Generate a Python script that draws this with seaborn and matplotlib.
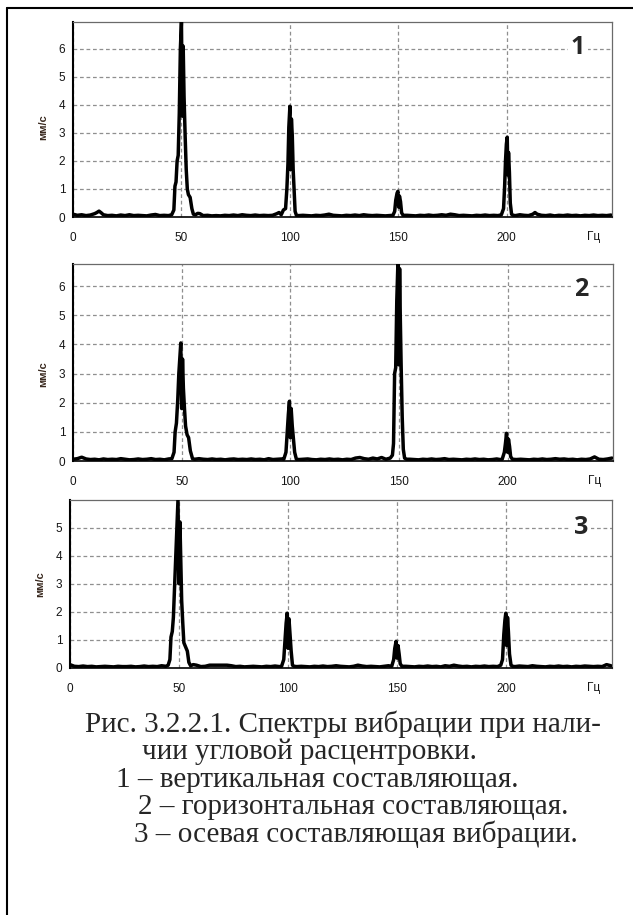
import numpy as np
import pandas as pd
import matplotlib
matplotlib.use("Agg")
import matplotlib.pyplot as plt
from matplotlib.lines import Line2D
from matplotlib.ticker import MultipleLocator
import seaborn as sns

# ---------------- data: (frequency Hz, amplitude mm/s) ----------------
spectrum_1 = [  # vertical component
    (0, 0.10), (2, 0.06), (4, 0.08), (6, 0.05), (8, 0.07), (10, 0.12), (11, 0.16), (12, 0.21), (13, 0.15), (14, 0.08),
    (16, 0.05), (18, 0.06), (20, 0.04), (22, 0.07), (24, 0.05), (26, 0.08), (28, 0.05), (30, 0.06), (32, 0.05),
    (34, 0.04), (36, 0.07), (38, 0.09), (40, 0.05), (42, 0.06), (44, 0.05),
    (45.5, 0.08), (46.5, 0.25), (47.0, 1.10), (47.5, 1.25), (48.0, 2.00), (48.5, 2.20), (49.0, 3.70), (49.5, 6.00),
    (50.0, 6.95), (50.4, 3.60), (50.8, 6.10), (51.2, 4.30), (51.7, 2.90), (52.2, 1.70), (52.7, 1.00), (53.2, 0.80),
    (54.0, 0.70), (54.8, 0.30), (55.5, 0.10),
    (56.5, 0.08), (57.5, 0.13), (58.5, 0.12), (60, 0.05), (62, 0.06), (64, 0.04), (66, 0.05), (68, 0.04), (70, 0.06),
    (72, 0.05), (74, 0.07), (76, 0.05), (78, 0.08), (80, 0.06), (82, 0.05), (84, 0.07), (86, 0.05), (88, 0.06),
    (90, 0.05), (92, 0.06), (94, 0.12), (95, 0.16),
    (96.0, 0.08), (97.0, 0.25), (98.0, 0.30), (98.6, 1.00), (99.1, 1.90), (99.5, 3.20), (100.0, 3.95), (100.3, 1.70),
    (100.7, 3.50), (101.1, 2.90), (101.5, 1.70), (101.9, 1.00), (102.4, 0.20), (103.0, 0.06),
    (104, 0.05), (106, 0.06), (108, 0.05), (110, 0.04), (112, 0.06), (114, 0.05), (116, 0.07), (118, 0.10), (120, 0.06),
    (122, 0.05), (124, 0.04), (126, 0.06), (128, 0.05), (130, 0.07), (132, 0.05), (134, 0.08), (136, 0.06), (138, 0.05),
    (140, 0.06), (142, 0.05), (144, 0.04), (146, 0.05),
    (147.5, 0.06), (148.3, 0.20), (148.8, 0.60), (149.4, 0.85), (149.8, 0.92), (150.2, 0.35), (150.5, 0.75),
    (151.0, 0.55), (151.5, 0.15), (152.2, 0.06),
    (154, 0.06), (156, 0.05), (158, 0.04), (160, 0.06), (162, 0.05), (164, 0.07), (166, 0.05), (168, 0.06), (170, 0.08),
    (172, 0.06), (174, 0.10), (176, 0.08), (178, 0.05), (180, 0.06), (182, 0.05), (184, 0.04), (186, 0.06), (188, 0.05),
    (190, 0.07), (192, 0.05), (194, 0.06), (196, 0.05),
    (197.5, 0.08), (198.5, 0.30), (199.0, 1.10), (199.4, 2.00), (199.8, 2.60), (200.2, 2.85), (200.5, 1.50),
    (200.8, 2.30), (201.2, 1.60), (201.6, 0.50), (202.2, 0.10), (203.0, 0.06),
    (204, 0.05), (206, 0.08), (208, 0.06), (210, 0.05), (212, 0.10), (213, 0.16), (214, 0.10), (216, 0.06), (218, 0.05),
    (220, 0.07), (222, 0.04), (224, 0.06), (226, 0.05), (228, 0.07), (230, 0.05), (232, 0.06), (234, 0.04), (236, 0.06),
    (238, 0.05), (240, 0.07), (242, 0.05), (244, 0.06), (246, 0.05), (248, 0.07),
]

spectrum_2 = [  # horizontal component
    (0, 0.06), (2, 0.08), (4, 0.13), (6, 0.07), (8, 0.05), (10, 0.06), (12, 0.04), (14, 0.07), (16, 0.05), (18, 0.06),
    (20, 0.05), (22, 0.08), (24, 0.06), (26, 0.04), (28, 0.05), (30, 0.07), (32, 0.05), (34, 0.06), (36, 0.08),
    (38, 0.05), (40, 0.06), (42, 0.04), (44, 0.07),
    (45.5, 0.08), (46.5, 0.30), (47.0, 1.00), (47.6, 1.30), (48.2, 2.10), (48.7, 3.00), (49.2, 3.60), (49.6, 4.05),
    (50.0, 1.80), (50.4, 3.50), (50.8, 2.50), (51.3, 1.80), (51.8, 1.20), (52.5, 0.90), (53.2, 0.80), (54.0, 0.35),
    (55.0, 0.08),
    (56, 0.06), (58, 0.08), (60, 0.06), (62, 0.05), (64, 0.07), (66, 0.05), (68, 0.06), (70, 0.04), (72, 0.06),
    (74, 0.07), (76, 0.05), (78, 0.06), (80, 0.05), (82, 0.07), (84, 0.05), (86, 0.06), (88, 0.04), (90, 0.08),
    (92, 0.05), (94, 0.06), (96, 0.07),
    (97.0, 0.06), (98.0, 0.30), (98.6, 1.00), (99.1, 1.60), (99.6, 2.05), (100.0, 0.80), (100.4, 1.80), (100.9, 1.20),
    (101.4, 0.80), (102.0, 0.30), (102.8, 0.06),
    (104, 0.05), (106, 0.06), (108, 0.07), (110, 0.05), (112, 0.04), (114, 0.06), (116, 0.05), (118, 0.07), (120, 0.05),
    (122, 0.06), (124, 0.04), (126, 0.06), (128, 0.05), (130, 0.10), (132, 0.12), (134, 0.08), (136, 0.06), (138, 0.10),
    (140, 0.07), (142, 0.12), (144, 0.06), (145, 0.08),
    (146.0, 0.10), (147.0, 0.20), (147.5, 0.60), (148.0, 3.00), (148.5, 3.20), (149.0, 5.50), (149.5, 6.75),
    (149.9, 3.30), (150.3, 6.60), (150.6, 5.00), (151.0, 3.30), (151.5, 1.50), (152.0, 0.40), (152.6, 0.10),
    (153.5, 0.06),
    (155, 0.06), (157, 0.05), (159, 0.04), (161, 0.06), (163, 0.05), (165, 0.07), (167, 0.05), (169, 0.06), (171, 0.08),
    (173, 0.05), (175, 0.06), (177, 0.05), (179, 0.04), (181, 0.06), (183, 0.05), (185, 0.07), (187, 0.05), (189, 0.06),
    (191, 0.04), (193, 0.05), (195, 0.07), (196.5, 0.05),
    (197.5, 0.06), (198.5, 0.30), (199.0, 0.60), (199.5, 0.95), (200.0, 0.30), (200.4, 0.75), (200.9, 0.50),
    (201.4, 0.15), (202.2, 0.06),
    (204, 0.05), (206, 0.06), (208, 0.05), (210, 0.04), (212, 0.06), (214, 0.05), (216, 0.07), (218, 0.05), (220, 0.06),
    (222, 0.08), (224, 0.06), (226, 0.07), (228, 0.05), (230, 0.06), (232, 0.04), (234, 0.06), (236, 0.05), (238, 0.07),
    (240, 0.14), (242, 0.06), (244, 0.05), (246, 0.07), (248, 0.10),
]

spectrum_3 = [  # axial component
    (0, 0.12), (2, 0.06), (4, 0.05), (6, 0.07), (8, 0.05), (10, 0.06), (12, 0.04), (14, 0.05), (16, 0.06), (18, 0.05),
    (20, 0.04), (22, 0.06), (24, 0.05), (26, 0.05), (28, 0.06), (30, 0.04), (32, 0.05), (34, 0.07), (36, 0.05),
    (38, 0.06), (40, 0.05), (42, 0.08), (44, 0.06),
    (45.0, 0.10), (45.8, 0.30), (46.3, 1.10), (46.9, 1.30), (47.4, 1.80), (48.0, 3.00), (48.5, 4.00), (49.0, 5.00),
    (49.5, 5.97), (50.0, 3.00), (50.4, 5.20), (50.8, 3.80), (51.2, 2.40), (51.7, 1.60), (52.2, 0.90), (53.0, 0.75),
    (53.8, 0.60), (54.5, 0.20), (55.3, 0.08),
    (56.5, 0.12), (58, 0.10), (60, 0.05), (62, 0.06), (64, 0.10), (66, 0.10), (68, 0.10), (70, 0.10), (72, 0.10),
    (74, 0.08), (76, 0.05), (78, 0.06), (80, 0.04), (82, 0.05), (84, 0.06), (86, 0.05), (88, 0.04), (90, 0.06),
    (92, 0.05), (94, 0.07), (96, 0.05),
    (97.0, 0.06), (98.0, 0.30), (98.6, 1.00), (99.1, 1.60), (99.6, 1.95), (100.0, 0.70), (100.4, 1.75), (100.9, 1.20),
    (101.4, 0.60), (102.0, 0.10), (102.8, 0.06),
    (104, 0.05), (106, 0.06), (108, 0.05), (110, 0.04), (112, 0.06), (114, 0.05), (116, 0.07), (118, 0.05), (120, 0.06),
    (122, 0.08), (124, 0.06), (126, 0.05), (128, 0.04), (130, 0.06), (132, 0.10), (134, 0.07), (136, 0.05), (138, 0.06),
    (140, 0.05), (142, 0.04), (144, 0.06), (146, 0.08),
    (147.5, 0.06), (148.4, 0.30), (148.9, 0.70), (149.5, 0.95), (150.0, 0.35), (150.4, 0.80), (150.9, 0.50),
    (151.4, 0.15), (152.2, 0.06),
    (154, 0.06), (156, 0.05), (158, 0.04), (160, 0.06), (162, 0.05), (164, 0.07), (166, 0.05), (168, 0.06), (170, 0.04),
    (172, 0.08), (174, 0.06), (176, 0.10), (178, 0.07), (180, 0.05), (182, 0.06), (184, 0.04), (186, 0.06), (188, 0.05),
    (190, 0.07), (192, 0.05), (194, 0.06), (196, 0.05),
    (197.5, 0.10), (198.3, 0.30), (198.9, 1.20), (199.4, 1.70), (199.8, 1.95), (200.2, 0.80), (200.6, 1.80),
    (201.0, 1.30), (201.5, 0.50), (202.2, 0.10), (203.0, 0.06),
    (204, 0.05), (206, 0.07), (208, 0.06), (210, 0.05), (212, 0.08), (214, 0.06), (216, 0.05), (218, 0.04), (220, 0.06),
    (222, 0.05), (224, 0.07), (226, 0.05), (228, 0.06), (230, 0.04), (232, 0.06), (234, 0.05), (236, 0.07), (238, 0.06),
    (240, 0.05), (242, 0.06), (244, 0.05), (246, 0.12), (248, 0.08),
]

panel_labels = ["1", "2", "3"]
y_limits = [6.96, 6.76, 5.98]
x_ticks = [0, 50, 100, 150, 200]
x_unit = "Гц"
y_unit = "мм/с"
caption_lines = [
    "Рис. 3.2.2.1. Спектры вибрации при нали-",
    "чии угловой расцентровки.",
    "1 – вертикальная составляющая.",
    "2 – горизонтальная составляющая.",
    "3 – осевая составляющая вибрации.",
]

# ---------------- figure ----------------
sns.set_style("white")
plt.rcParams["font.family"] = ["Liberation Sans", "DejaVu Sans"]

W, H = 633, 915
fig = plt.figure(figsize=(W / 100, H / 100), dpi=100)


def fx(px):
    return px / W


def fy(py):
    return 1 - py / H


# outer frame (left and top edges of the cropped box)
fig.add_artist(Line2D([fx(6.5), fx(6.5)], [fy(8), 0], color="black", lw=1.5, transform=fig.transFigure))
fig.add_artist(Line2D([fx(6.5), 1], [fy(8), fy(8)], color="black", lw=1.5, transform=fig.transFigure))

spectra = [spectrum_1, spectrum_2, spectrum_3]
boxes = [(73, 612, 22, 217), (73, 613, 264, 461), (70, 612, 500, 668)]
ylab_pos = [0.46, 0.44, 0.5]
num_pos = [(578, 47), (581, 290), (581, 527)]

for i, (spec, (l, r, t, b)) in enumerate(zip(spectra, boxes)):
    ax = fig.add_axes([fx(l), fy(b), (r - l) / W, (b - t) / H])
    df = pd.DataFrame(spec, columns=["f", "a"])
    sns.lineplot(data=df, x="f", y="a", ax=ax, color="black", lw=2.5,
                 estimator=None, sort=False, zorder=3)
    ax.set_xlim(0, 248.5)
    ax.set_ylim(0, y_limits[i])
    ax.set_xticks(x_ticks)
    ax.xaxis.set_minor_locator(MultipleLocator(12.5))
    ax.yaxis.set_major_locator(MultipleLocator(1))
    ax.grid(True, which="major", color="#8f8f8f", ls=(0, (3, 2.2)), lw=0.9)
    ax.tick_params(axis="x", which="major", length=3, width=0.8, color="black",
                   labelsize=8.5, labelcolor="#151515", pad=7.8, direction="out")
    ax.tick_params(axis="y", which="major", length=3, width=0.8, color="black",
                   labelsize=8.5, labelcolor="#151515", pad=2.5, direction="out")
    ax.tick_params(axis="x", which="minor", length=2, width=0.6, color="#555555")
    for s in ["top", "right"]:
        ax.spines[s].set_color("#6a6a6a")
        ax.spines[s].set_linewidth(0.9)
    ax.spines["left"].set_color("black")
    ax.spines["left"].set_linewidth(1.5)
    ax.spines["bottom"].set_color("black")
    ax.spines["bottom"].set_linewidth(1.2)
    ax.set_xlabel("")
    ax.set_ylabel(y_unit, fontsize=8, fontweight="bold", color="#3a2a20")
    ax.yaxis.set_label_coords(-0.046, ylab_pos[i])
    ax.annotate(x_unit, xy=(240, 0), xycoords=("data", "axes fraction"),
                xytext=(0, -14.5), textcoords="offset points",
                ha="center", va="center", fontsize=8.5, color="#151515")
    nx, ny = num_pos[i]
    fig.text(fx(nx), fy(ny), panel_labels[i], ha="center", va="center",
             fontsize=18, fontweight="bold", family=["Open Sans", "DejaVu Sans"],
             bbox=dict(boxstyle="square,pad=0.1", fc="white", ec="none"), zorder=5)

# caption
cap_x = [85, 142, 116, 138, 134]
cap_base = [732, 759, 787, 814, 842]
for txt, x, y in zip(caption_lines, cap_x, cap_base):
    fig.text(fx(x), fy(y), txt, ha="left", va="baseline", fontsize=21,
             family=["Liberation Serif", "DejaVu Serif"])

fig.savefig("out.png", dpi=100)
